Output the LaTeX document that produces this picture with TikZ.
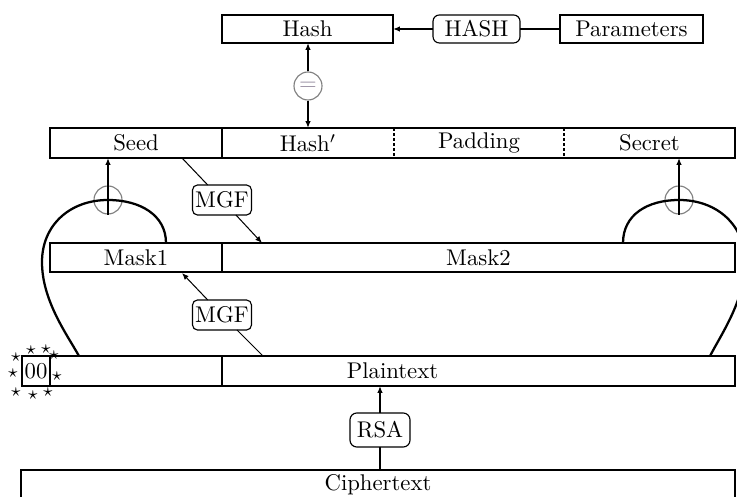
\documentclass[tikz,border=0pt]{standalone}
\usetikzlibrary{arrows.meta}
\def\pu{0.44pt}
\definecolor{eqcol}{RGB}{150,140,160}
\begin{document}
\begin{tikzpicture}[x=0.44pt,y=-0.44pt,
  cell/.style={inner sep=0pt, outer sep=0pt, minimum height=30*\pu},
  box/.style={draw, line width=0.9pt, inner sep=0pt, outer sep=0pt, minimum height=28*\pu},
  rowline/.style={line width=0.9pt},
  divdash/.style={line width=0.9pt, dash pattern=on 1.3pt off 0.9pt},
  op/.style={draw, rounded corners=2.2pt, line width=0.5pt, inner sep=0pt, outer sep=0pt},
  xorc/.style={circle, draw=gray, line width=0.5pt, minimum size=28*\pu, inner sep=0pt},
  tip/.style={-{Latex[length=3pt,width=2.4pt]}},
  thinln/.style={line width=0.45pt},
  medln/.style={line width=0.6pt},
  thickln/.style={line width=0.9pt},
  curveln/.style={line width=1pt},
  stardot/.style={inner sep=0pt, font=\footnotesize}
]
\useasboundingbox (0,0) rectangle (737,497);

% top row
\node[box, minimum width=171*\pu] (hash) at (307.5,29) {Hash};
\node[op, minimum width=87*\pu, minimum height=28*\pu, rounded corners=2.8pt] (HASH) at (476.5,29) {HASH};
\node[box, minimum width=143*\pu] (params) at (631.5,29) {Parameters};
\draw[medln, tip] (HASH) -- (hash);
\draw[medln] (params) -- (HASH);

% equality check
\node[xorc, text=eqcol] (eq) at (308,86) {$=$};
\draw[medln, tip] (eq.north) -- (eq.north |- hash.south);
\draw[medln, tip] (eq.south) -- (eq.south |- 0,128);

% seed row
\node[cell, minimum width=172*\pu] (seed) at (136,143) {Seed};
\node[cell, minimum width=172*\pu] (hashp) at (308,143) {Hash$'$};
\node[cell, minimum width=170*\pu] (pad) at (479,143) {Padding};
\node[cell, minimum width=171*\pu] (secret) at (649.5,143) {Secret};
\draw[rowline] (seed.north west) rectangle (secret.south east);
\draw[rowline] (seed.north east) -- (seed.south east);
\draw[divdash] (hashp.north east) -- (hashp.south east);
\draw[divdash] (pad.north east) -- (pad.south east);

% mask row
\node[cell, minimum width=172*\pu, minimum height=29*\pu] (mask1) at (136,257.5) {Mask1};
\node[cell, minimum width=513*\pu, minimum height=29*\pu] (mask2) at (478.5,257.5) {Mask2};
\draw[rowline] (mask1.north west) rectangle (mask2.south east);
\draw[rowline] (mask1.north east) -- (mask1.south east);

% plaintext row
\node[cell, minimum width=28*\pu] (zz) at (36,371) {00};
\node[cell, minimum width=685*\pu] (pt) at (392.5,371) {Plaintext};
\coordinate (pdiv) at (222,371);
\draw[rowline] (zz.north west) rectangle (pt.south east);
\draw[rowline] (zz.north east) -- (zz.south east);
\draw[rowline] (pdiv |- pt.north) -- (pdiv |- pt.south);

% stars
\node[stardot] (s1) at (16,357) {$\star$};
\node[stardot] (s2) at (31,350) {$\star$};
\node[stardot] (s3) at (46,349) {$\star$};
\node[stardot] (s4) at (54,355) {$\star$};
\node[stardot] (s5) at (13,373) {$\star$};
\node[stardot] (s6) at (57,376) {$\star$};
\node[stardot] (s7) at (16,392) {$\star$};
\node[stardot] (s8) at (33,395) {$\star$};
\node[stardot] (s9) at (48,392) {$\star$};

% ciphertext
\node[cell, minimum width=714*\pu, minimum height=29*\pu] (ct) at (378,484.5) {Ciphertext};
\draw[rowline] (ct.north west) rectangle (ct.south east);

% RSA
\node[op, minimum width=60*\pu, minimum height=34*\pu, rounded corners=3pt] (rsa) at (380,430) {RSA};
\draw[thickln] (rsa.south) -- (rsa.south |- ct.north);
\draw[thickln, tip] (rsa.north) -- (rsa.north |- pt.south);

% MGF upper
\node[op, minimum width=59*\pu, minimum height=30*\pu] (mgf1) at (222,200) {MGF};
\coordinate (m1s) at (182,158);
\coordinate (m1t) at (262,243);
\draw[thinln] (m1s) -- (mgf1);
\draw[thinln, tip] (mgf1) -- (m1t);

% MGF lower
\node[op, minimum width=59*\pu, minimum height=30*\pu] (mgf2) at (222,315) {MGF};
\coordinate (m2s) at (263,356);
\coordinate (m2t) at (182,273);
\draw[thinln] (m2s) -- (mgf2);
\draw[thinln, tip] (mgf2) -- (m2t);

% left xor
\node[xorc] (xl) at (108,200) {};
\coordinate (lA) at (166,243);
\coordinate (lB) at (79,356);
\draw[curveln] (lA) .. controls (166,215) and (140,200) .. (xl.center)
  .. controls (70,200) and (42,225) .. (42,262)
  .. controls (42,300) and (66,333) .. (lB);
\draw[thickln, tip] (xl.south) -- (xl.south |- seed.south);

% right xor
\node[xorc] (xr) at (679,200) {};
\coordinate (rA) at (623,243);
\coordinate (rB) at (710,356);
\draw[curveln] (rA) .. controls (623,215) and (647,200) .. (xr.center)
  .. controls (717,200) and (745,225) .. (745,262)
  .. controls (745,300) and (722,333) .. (rB);
\draw[thickln, tip] (xr.south) -- (xr.south |- secret.south);
\end{tikzpicture}
\end{document}
